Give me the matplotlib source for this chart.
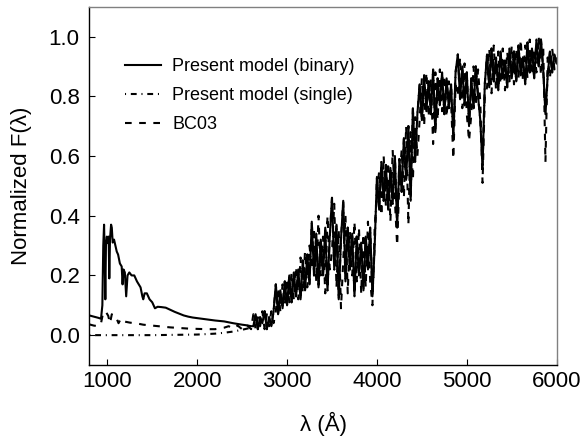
### Normalized spectra: present model (binary / single) vs BC03

import matplotlib
matplotlib.use('Agg')

import matplotlib.pyplot as pp
import numpy as np

pp.rcParams['font.family'] = ['Liberation Sans', 'DejaVu Sans']

##### DATA #####

# UV part, present model (binary)
wave_uv_binary = [800, 850, 900, 930, 945, 955, 964, 972, 978, 985,
                  995, 1005, 1015, 1022, 1030, 1042, 1050, 1060, 1075, 1090,
                  1105, 1120, 1140, 1160, 1170, 1180, 1195, 1210, 1225, 1245,
                  1270, 1300, 1330, 1350, 1370, 1390, 1400, 1415, 1440, 1470,
                  1500, 1530, 1560, 1600, 1650, 1700, 1750, 1800, 1850, 1900,
                  1950, 2000, 2100, 2200, 2300, 2400, 2500, 2550, 2600]
flux_uv_binary = [0.066, 0.062, 0.058, 0.055, 0.10, 0.30, 0.37, 0.25, 0.12, 0.30,
                  0.33, 0.31, 0.33, 0.19, 0.32, 0.37, 0.36, 0.31, 0.32, 0.30,
                  0.28, 0.27, 0.24, 0.23, 0.17, 0.22, 0.21, 0.13, 0.20, 0.21,
                  0.20, 0.20, 0.18, 0.17, 0.16, 0.13, 0.12, 0.14, 0.14, 0.12,
                  0.11, 0.09, 0.095, 0.094, 0.092, 0.085, 0.078, 0.072, 0.066, 0.062,
                  0.059, 0.057, 0.053, 0.049, 0.046, 0.040, 0.035, 0.033, 0.030]

# UV part, present model (single)
wave_uv_single = [800, 1000, 1500, 2000, 2200, 2300, 2400, 2500, 2600]
flux_uv_single = [0.0, 0.0, 0.0, 0.002, 0.005, 0.008, 0.012, 0.018, 0.025]

# UV part, BC03
wave_uv_bc03 = [800, 850, 900, 930, 950, 970, 990, 1010, 1030, 1050,
                1075, 1100, 1125, 1150, 1175, 1200, 1250, 1300, 1350, 1400,
                1500, 1600, 1700, 1800, 1900, 2000, 2100, 2200, 2300, 2350,
                2400, 2450, 2500, 2550, 2600]
flux_uv_bc03 = [0.036, 0.032, 0.030, 0.040, 0.070, 0.080, 0.075, 0.065, 0.040, 0.070,
                0.060, 0.058, 0.040, 0.055, 0.047, 0.045, 0.042, 0.040, 0.038, 0.035,
                0.032, 0.029, 0.026, 0.024, 0.022, 0.021, 0.020, 0.020, 0.025, 0.030,
                0.022, 0.032, 0.020, 0.035, 0.020]

# Optical part (shared wavelength grid)
wave_opt = [2625, 2650, 2675, 2700, 2725, 2750, 2775, 2800, 2825, 2850,
            2875, 2900, 2925, 2950, 2975, 3000, 3025, 3050, 3075, 3100,
            3125, 3150, 3175, 3200, 3225, 3250, 3275, 3300, 3325, 3350,
            3375, 3400, 3425, 3450, 3475, 3500, 3525, 3550, 3575, 3600,
            3625, 3650, 3675, 3700, 3725, 3750, 3775, 3800, 3825, 3850,
            3875, 3900, 3925, 3950, 3975, 4000, 4025, 4050, 4075, 4100,
            4125, 4150, 4175, 4200, 4225, 4250, 4275, 4300, 4325, 4350,
            4375, 4400, 4425, 4450, 4475, 4500, 4525, 4550, 4575, 4600,
            4625, 4650, 4675, 4700, 4725, 4750, 4775, 4800, 4825, 4850,
            4875, 4900, 4925, 4950, 4975, 5000, 5025, 5050, 5075, 5100,
            5125, 5150, 5175, 5200, 5225, 5250, 5275, 5300, 5325, 5350,
            5375, 5400, 5425, 5450, 5475, 5500, 5525, 5550, 5575, 5600,
            5625, 5650, 5675, 5700, 5725, 5750, 5775, 5800, 5825, 5850,
            5875, 5900, 5925, 5950, 5975, 6000]

# Optical part, present model (binary and single are indistinguishable here)
flux_opt_model = [0.03, 0.07, 0.02, 0.06, 0.04, 0.08, 0.02, 0.06, 0.03, 0.08,
                  0.17, 0.07, 0.15, 0.09, 0.18, 0.10, 0.20, 0.11, 0.21, 0.13,
                  0.22, 0.12, 0.25, 0.15, 0.27, 0.17, 0.38, 0.20, 0.34, 0.16,
                  0.32, 0.20, 0.36, 0.15, 0.33, 0.46, 0.22, 0.37, 0.12, 0.32,
                  0.45, 0.18, 0.36, 0.22, 0.34, 0.13, 0.33, 0.20, 0.31, 0.15,
                  0.33, 0.22, 0.36, 0.13, 0.30, 0.53, 0.42, 0.58, 0.45, 0.57,
                  0.42, 0.56, 0.44, 0.60, 0.36, 0.59, 0.48, 0.66, 0.52, 0.70,
                  0.45, 0.76, 0.58, 0.74, 0.84, 0.72, 0.87, 0.75, 0.85, 0.74,
                  0.89, 0.68, 0.86, 0.77, 0.88, 0.74, 0.86, 0.76, 0.84, 0.66,
                  0.88, 0.94, 0.79, 0.90, 0.77, 0.88, 0.70, 0.86, 0.76, 0.90,
                  0.80, 0.72, 0.56, 0.84, 0.94, 0.83, 0.96, 0.85, 0.93, 0.82,
                  0.95, 0.86, 0.92, 0.83, 0.96, 0.86, 0.95, 0.85, 0.97, 0.87,
                  0.93, 0.84, 0.98, 0.88, 0.96, 0.86, 0.99, 0.90, 0.99, 0.89,
                  0.74, 0.87, 0.95, 0.88, 0.94, 0.91]

# Optical part, BC03
flux_opt_bc03 = [0.07, 0.02, 0.06, 0.03, 0.08, 0.02, 0.07, 0.03, 0.08, 0.04,
                 0.08, 0.16, 0.08, 0.17, 0.10, 0.19, 0.11, 0.21, 0.12, 0.23,
                 0.12, 0.26, 0.14, 0.28, 0.16, 0.30, 0.22, 0.36, 0.18, 0.40,
                 0.20, 0.33, 0.14, 0.40, 0.22, 0.28, 0.44, 0.16, 0.35, 0.09,
                 0.25, 0.40, 0.14, 0.35, 0.20, 0.38, 0.18, 0.36, 0.14, 0.34,
                 0.16, 0.38, 0.18, 0.10, 0.36, 0.47, 0.55, 0.40, 0.60, 0.43,
                 0.58, 0.38, 0.62, 0.45, 0.30, 0.52, 0.62, 0.46, 0.70, 0.37,
                 0.68, 0.52, 0.73, 0.60, 0.72, 0.86, 0.70, 0.88, 0.73, 0.86,
                 0.64, 0.88, 0.72, 0.89, 0.75, 0.87, 0.73, 0.85, 0.78, 0.59,
                 0.84, 0.80, 0.93, 0.76, 0.91, 0.74, 0.65, 0.74, 0.90, 0.77,
                 0.89, 0.78, 0.51, 0.80, 0.83, 0.96, 0.81, 0.97, 0.82, 0.95,
                 0.84, 0.96, 0.82, 0.95, 0.85, 0.97, 0.84, 0.96, 0.86, 0.99,
                 0.85, 0.97, 0.86, 0.99, 0.87, 0.96, 0.88, 1.00, 0.87, 0.97,
                 0.58, 0.93, 0.86, 0.96, 0.89, 0.93]

labels = ['Present model (binary)', 'Present model (single)', 'BC03']

##### END DATA #####

wave_binary = np.array(wave_uv_binary + wave_opt)
flux_binary = np.array(flux_uv_binary + flux_opt_model)
wave_single = np.array(wave_uv_single + wave_opt)
flux_single = np.array(flux_uv_single + flux_opt_model)
wave_bc03 = np.array(wave_uv_bc03 + wave_opt)
flux_bc03 = np.array(flux_uv_bc03 + flux_opt_bc03)

### Make the plot
fig = pp.figure(figsize=(5.85, 4.46), dpi=100)
ax = fig.add_axes([0.1527, 0.1816, 0.7989, 0.8034])

lw = 1.5
ax.plot(wave_binary, flux_binary, color='black', lw=lw, ls='-', label=labels[0])
ax.plot(wave_single, flux_single, color='black', lw=lw, ls=(0, (0.5, 2.3, 2.8, 2.3)), label=labels[1])
ax.plot(wave_bc03, flux_bc03, color='black', lw=lw, ls=(0, (3.2, 3.6)), label=labels[2])

ax.set_xlim(800, 6000)
ax.set_ylim(-0.1, 1.1)
ax.set_xticks([1000, 2000, 3000, 4000, 5000, 6000])
ax.set_yticks([0.0, 0.2, 0.4, 0.6, 0.8, 1.0])
ax.set_yticklabels([f'{v:.1f}' for v in [0.0, 0.2, 0.4, 0.6, 0.8, 1.0]])
ax.tick_params(direction='in', length=4, width=0.8, labelsize=16, colors='black')
ax.tick_params(axis='x', pad=4)
ax.tick_params(axis='y', pad=7)

for side in ['top', 'right']:
    ax.spines[side].set_color('#808080')
    ax.spines[side].set_linewidth(1.0)
for side in ['left', 'bottom']:
    ax.spines[side].set_color('black')
    ax.spines[side].set_linewidth(1.0)

ax.set_xlabel('λ (Å)', fontsize=16)
ax.set_ylabel('Normalized F(λ)', fontsize=16)
ax.xaxis.set_label_coords(0.5, -0.13)
ax.yaxis.set_label_coords(-0.122, 0.5)

ax.legend(loc='upper left', bbox_to_anchor=(0.076, 0.856), frameon=False,
          fontsize=13, handlelength=2.0, handletextpad=0.62, labelspacing=0.67,
          borderpad=0, borderaxespad=0)

pp.savefig('out.png', dpi=100)
pp.close()
